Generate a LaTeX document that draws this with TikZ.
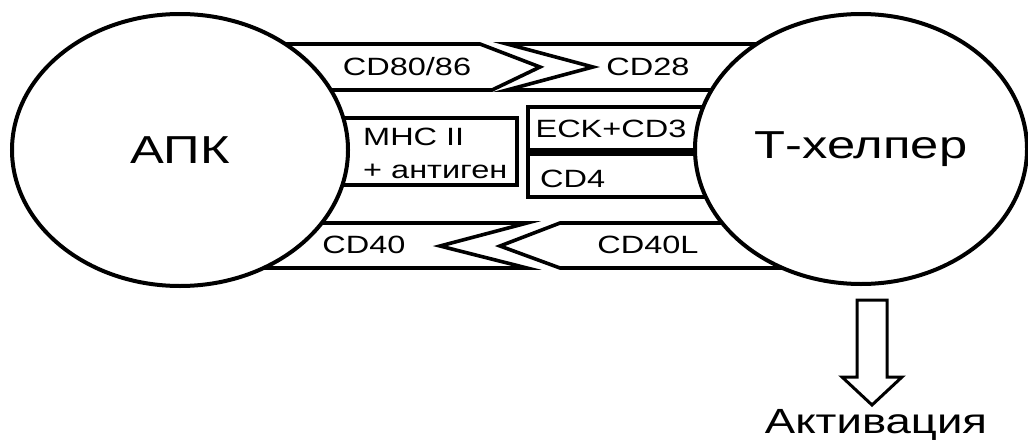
\documentclass[tikz,border=0pt]{standalone}
\usepackage{fontspec}
\setmainfont[FakeStretch=1.3]{Liberation Sans}
\usetikzlibrary{shapes.geometric}
\tikzset{
  cellbody/.style={ellipse,draw=black,fill=white,line width=4pt,inner sep=0pt,font=\fontsize{39}{44}\selectfont},
  bandline/.style={draw=black,line width=3.6pt,line join=miter},
  molname/.style={inner sep=0pt,anchor=base,font=\fontsize{25}{28}\selectfont},
  hollowarr/.style={draw=black,fill=white,line width=3pt,line join=miter}
}
\begin{document}
\begin{tikzpicture}[x=1pt,y=-1pt]
  \useasboundingbox (0,0) rectangle (1028,447);
  % receptor pairs
  \draw[bandline] (150,44) -- (480,44) -- (540,67) -- (492,90) -- (150,90);
  \draw[bandline] (900,44) -- (507,44) -- (593,67) -- (507,90) -- (900,90);
  \draw[bandline] (200,118) -- (517,118) -- (517,185) -- (200,185);
  \draw[bandline] (800,107) -- (528,107) -- (528,197) -- (800,197);
  \draw[bandline,line width=8pt] (528,152) -- (800,152);
  \draw[bandline] (150,223) -- (527,223) -- (440,246) -- (527,268) -- (150,268);
  \draw[bandline] (900,223) -- (560,223) -- (500,246) -- (560,268) -- (900,268);

  \node[cellbody,minimum width=336,minimum height=272] (apk) at (180,150) {АПК};
  \node[cellbody,minimum width=332,minimum height=270] (th) at (861,149) {Т-хелпер};

  \node[molname] (cd80) at (407,75) {CD80/86};
  \node[molname] (cd28) at (648,75) {CD28};
  \node[molname,anchor=base west] (mhc) at (363,145) {MHC II};
  \node[molname,anchor=base west] (ag) at (363,178) {+ антиген};
  \node[molname] (tcr) at (611,137) {ECK+CD3};
  \node[molname,anchor=base west] (cd4) at (540,187) {CD4};
  \node[molname] (cd40) at (364,253) {CD40};
  \node[molname] (cd40l) at (648,253) {CD40L};

  \draw[hollowarr] (857,300) -- (887,300) -- (887,377) -- (902,377) -- (872,405)
    -- (842,377) -- (857,377) -- cycle;
  \node[inner sep=0pt,anchor=base,font=\fontsize{35}{40}\selectfont] (act) at (876,433) {Активация};
\end{tikzpicture}
\end{document}
